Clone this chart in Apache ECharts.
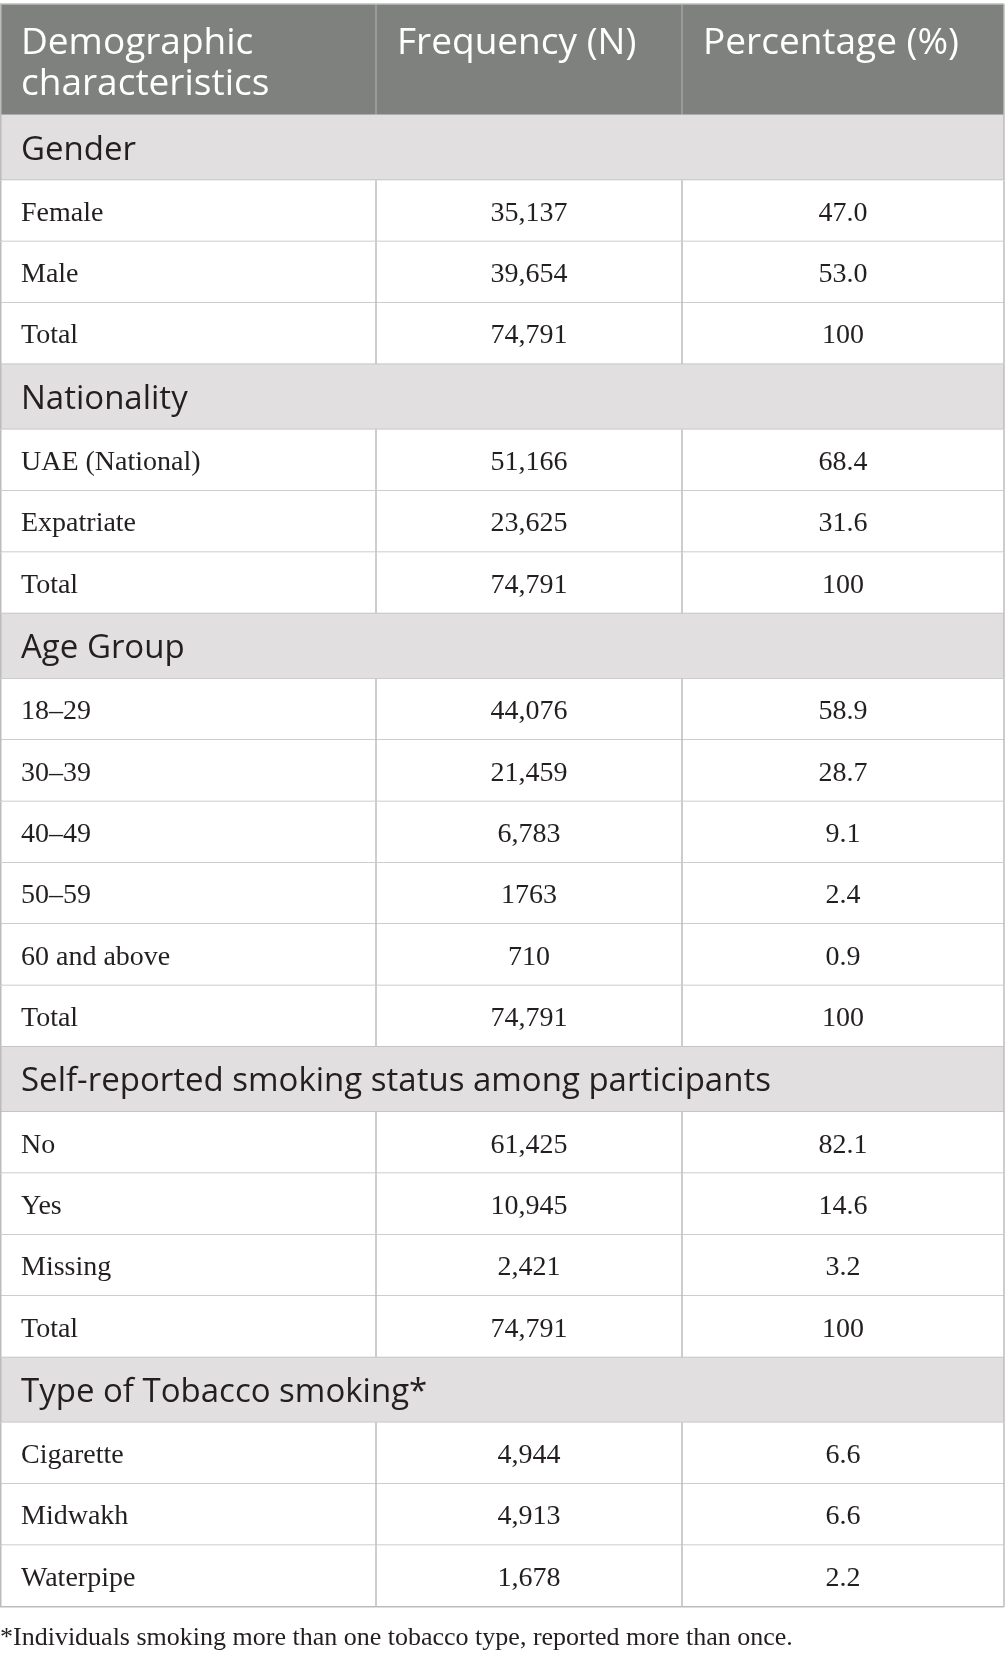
<!DOCTYPE html>
<html>
<head>
<meta charset="utf-8">
<script src="https://cdn.jsdelivr.net/npm/echarts@6/dist/echarts.min.js"></script>
<style>
  body { margin: 0; background: #fff; }
  #table { width: 1005px; height: 1661px; }
</style>
</head>
<body>
<div id="table"></div>
<script>
// table content
const columnHeaders = ['Demographic\ncharacteristics', 'Frequency (N)', 'Percentage (%)'];
const sections = [
  'Gender',
  'Nationality',
  'Age Group',
  'Self-reported smoking status among participants',
  'Type of Tobacco smoking*'
];
const categories = [
  ['Female', 'Male', 'Total'],
  ['UAE (National)', 'Expatriate', 'Total'],
  ['18–29', '30–39', '40–49', '50–59', '60 and above', 'Total'],
  ['No', 'Yes', 'Missing', 'Total'],
  ['Cigarette', 'Midwakh', 'Waterpipe']
];
const frequencies = [
  ['35,137', '39,654', '74,791'],
  ['51,166', '23,625', '74,791'],
  ['44,076', '21,459', '6,783', '1763', '710', '74,791'],
  ['61,425', '10,945', '2,421', '74,791'],
  ['4,944', '4,913', '1,678']
];
const percentages = [
  ['47.0', '53.0', '100'],
  ['68.4', '31.6', '100'],
  ['58.9', '28.7', '9.1', '2.4', '0.9', '100'],
  ['82.1', '14.6', '3.2', '100'],
  ['6.6', '6.6', '2.2']
];
const footnote = '*Individuals smoking more than one tobacco type, reported more than once.';

// layout (in axis units, which map 1:1 onto the canvas)
const W = 1005, H = 1661;
const cols = [0, 376, 682, 1004];
const tableTop = 4, headerH = 111, sectionH = 65.2, rowH = 61.35, pad = 21;
const textDrop = 2.5; // glyphs sit a little below the cell centre

const sansFont = '"Open Sans", "Noto Sans", sans-serif';
const serifFont = '"Liberation Serif", "DejaVu Serif", serif';
const borderColor = '#bcbcbc';

// build the row list
const rows = [];
let yPos = tableTop;
rows.push({ kind: 'header', y0: yPos, y1: yPos + headerH, cells: columnHeaders });
yPos += headerH;
sections.forEach((s, i) => {
  rows.push({ kind: 'section', y0: yPos, y1: yPos + sectionH, cells: [s] });
  yPos += sectionH;
  categories[i].forEach((c, j) => {
    rows.push({ kind: 'data', y0: yPos, y1: yPos + rowH, cells: [c, frequencies[i][j], percentages[i][j]] });
    yPos += rowH;
  });
});

function line(api, a, b, color, w) {
  const p = api.coord(a), q = api.coord(b);
  return {
    type: 'line',
    shape: { x1: p[0], y1: p[1], x2: q[0], y2: q[1] },
    style: { stroke: color, lineWidth: w }
  };
}

function renderRow(params, api) {
  const r = rows[params.dataIndex];
  const tl = api.coord([cols[0], r.y0]);
  const br = api.coord([cols[3], r.y1]);
  const children = [];
  const fill = r.kind === 'header' ? '#7f817f' : r.kind === 'section' ? '#e1dfe0' : '#ffffff';
  children.push({
    type: 'rect',
    shape: { x: tl[0], y: tl[1], width: br[0] - tl[0], height: br[1] - tl[1] },
    style: { fill: fill }
  });

  if (r.kind === 'header') {
    for (let k = 1; k <= 2; k++) {
      children.push(line(api, [cols[k], r.y0], [cols[k], r.y1], '#a2a3a2', 1.5));
    }
    r.cells.forEach((t, k) => {
      const p = api.coord([cols[k] + pad, r.y0 + 16 + textDrop]);
      children.push({
        type: 'text',
        style: {
          text: t, x: p[0], y: p[1], fill: '#ffffff',
          fontFamily: sansFont, fontSize: 37, lineHeight: 41,
          align: 'left', verticalAlign: 'top'
        }
      });
    });
  } else if (r.kind === 'section') {
    const p = api.coord([cols[0] + pad, (r.y0 + r.y1) / 2 + textDrop]);
    children.push({
      type: 'text',
      style: {
        text: r.cells[0], x: p[0], y: p[1], fill: '#231f20',
        fontFamily: sansFont, fontSize: 33,
        align: 'left', verticalAlign: 'middle'
      }
    });
  } else {
    for (let k = 1; k <= 2; k++) {
      children.push(line(api, [cols[k], r.y0], [cols[k], r.y1], borderColor, 1.5));
    }
    r.cells.forEach((t, k) => {
      const x = k === 0 ? cols[0] + pad : (cols[k] + cols[k + 1]) / 2;
      const p = api.coord([x, (r.y0 + r.y1) / 2 + textDrop]);
      children.push({
        type: 'text',
        style: {
          text: t, x: p[0], y: p[1], fill: '#231f20',
          fontFamily: serifFont, fontSize: 28,
          align: k === 0 ? 'left' : 'center', verticalAlign: 'middle'
        }
      });
    });
  }

  // row rules and outer edges
  if (r.kind === 'header') {
    children.push(line(api, [cols[0], r.y0], [cols[3], r.y0], borderColor, 1.5));
  }
  children.push(line(api, [cols[0], r.y1], [cols[3], r.y1], borderColor, 1.5));
  children.push(line(api, [cols[0] + 0.75, r.y0], [cols[0] + 0.75, r.y1], borderColor, 1.5));
  children.push(line(api, [cols[3], r.y0], [cols[3], r.y1], borderColor, 1.5));

  return { type: 'group', children: children };
}

const chart = echarts.init(document.getElementById('table'));
chart.setOption({
  animation: false,
  title: {
    text: footnote,
    left: 0,
    top: 1625,
    padding: 0,
    textStyle: { fontFamily: serifFont, fontSize: 26, fontWeight: 'normal', color: '#231f20' }
  },
  grid: { left: 0, right: 0, top: 0, bottom: 0 },
  xAxis: { type: 'value', min: 0, max: W, show: false },
  yAxis: { type: 'value', min: 0, max: H, inverse: true, show: false },
  series: [{
    type: 'custom',
    renderItem: renderRow,
    data: rows.map((r, i) => [i, r.y0, r.y1]),
    encode: { x: -1, y: [1, 2] },
    silent: true
  }]
});
</script>
</body>
</html>
